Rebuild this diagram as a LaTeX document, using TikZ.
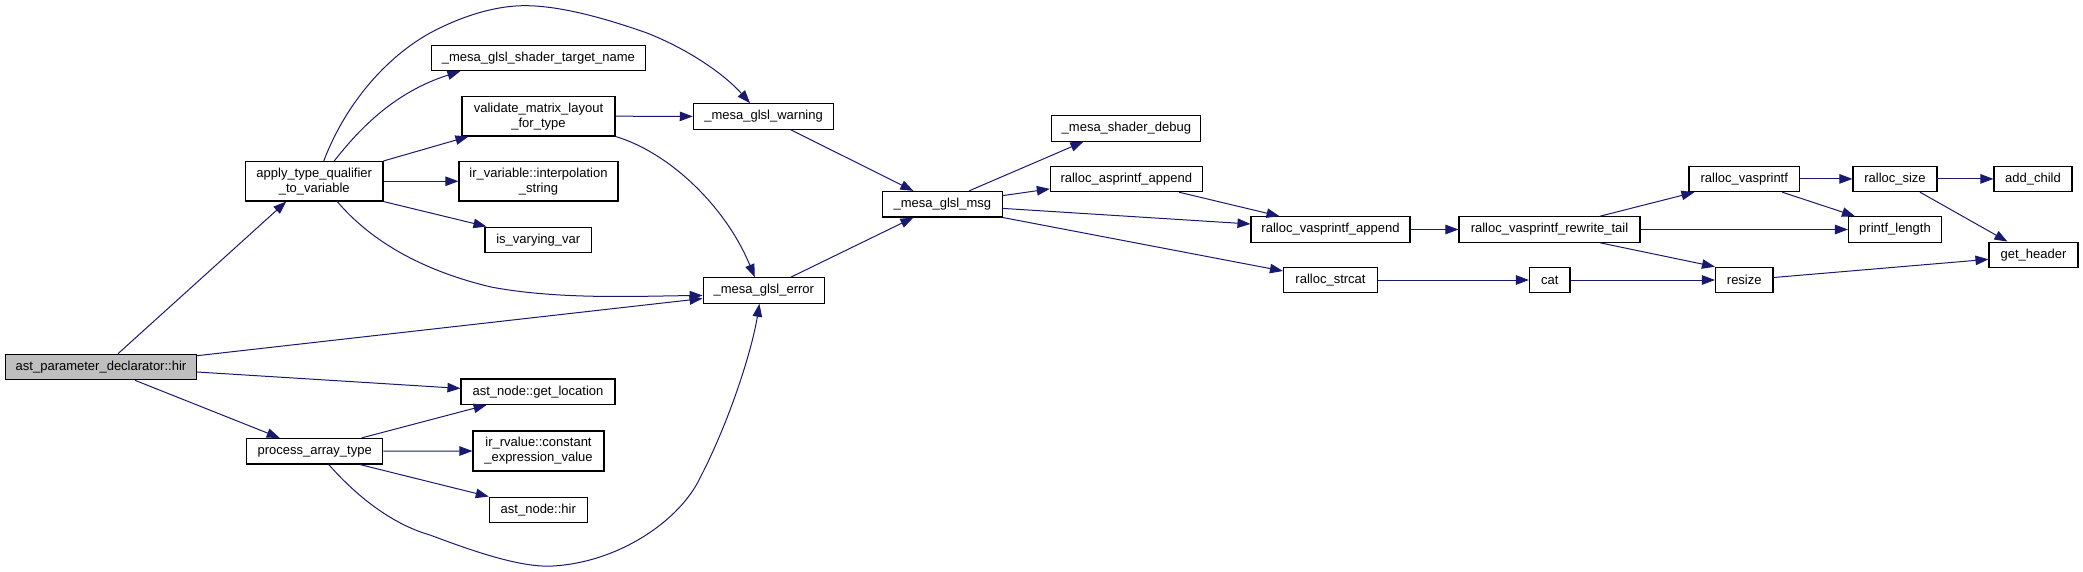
\documentclass[tikz,border=0pt]{standalone}
\usepackage{fontspec}
\setmainfont{Liberation Sans}
\usetikzlibrary{arrows.meta,calc}
\definecolor{edgeblue}{HTML}{191970}
\definecolor{rootgray}{HTML}{BFBFBF}
\tikzset{
  fn/.style={draw=black, line width=1.1pt, rectangle, inner sep=0pt, align=center,
    font=\fontsize{13pt}{15pt}\selectfont, minimum height=25.5pt},
  fn2/.style={fn, minimum height=39.5pt},
  call/.style={draw=edgeblue, line width=1pt, -{Triangle[length=13pt,width=9.5pt]}, edgeblue}
}
\begin{document}
\begin{tikzpicture}[x=1pt,y=-1pt]
\useasboundingbox (0,0) rectangle (2083,571);
% nodes
\node[fn, fill=rootgray, minimum width=191pt] (hir) at (101,367) {ast\_parameter\_declarator::hir};
\node[fn2, minimum width=137.5pt] (apply) at (314.25,181.25) {apply\_type\_qualifier\\\_to\_variable};
\node[fn, minimum width=213.8pt] (target) at (538.4,57.85) {\_mesa\_glsl\_shader\_target\_name};
\node[fn2, minimum width=153pt] (validate) at (538.5,116.2) {validate\_matrix\_layout\\\_for\_type};
\node[fn2, minimum width=159pt] (interp) at (538.5,181.25) {ir\_variable::interpolation\\\_string};
\node[fn, minimum width=106.5pt] (isvary) at (538.25,239.8) {is\_varying\_var};
\node[fn, minimum width=154pt] (getloc) at (538,391.7) {ast\_node::get\_location};
\node[fn, minimum width=136pt] (procarr) at (314.7,451.2) {process\_array\_type};
\node[fn2, minimum width=131pt, minimum height=40pt] (constv) at (538.5,451) {ir\_rvalue::constant\\\_expression\_value};
\node[fn, minimum width=98pt] (asthir) at (538.3,509.85) {ast\_node::hir};
\node[fn, minimum width=140.6pt] (warn) at (763.6,116.4) {\_mesa\_glsl\_warning};
\node[fn, minimum width=121.4pt] (err) at (763.8,290.5) {\_mesa\_glsl\_error};
\node[fn, minimum width=119.6pt] (msg) at (942.4,204.2) {\_mesa\_glsl\_msg};
\node[fn, minimum width=149pt] (sdebug) at (1126.4,128.4) {\_mesa\_shader\_debug};
\node[fn, minimum width=151.8pt] (asapp) at (1126.3,178.9) {ralloc\_asprintf\_append};
\node[fn, minimum width=159pt] (vsapp) at (1330.5,229.5) {ralloc\_vasprintf\_append};
\node[fn, minimum width=94pt] (strcat) at (1330.5,280) {ralloc\_strcat};
\node[fn, minimum width=181pt] (rtail) at (1549.5,229.5) {ralloc\_vasprintf\_rewrite\_tail};
\node[fn, minimum width=110.5pt] (rvs) at (1744.25,178.9) {ralloc\_vasprintf};
\node[fn, minimum width=84pt] (rsize) at (1895,178.9) {ralloc\_size};
\node[fn, minimum width=78pt] (addch) at (2033,178.9) {add\_child};
\node[fn, minimum width=93pt] (plen) at (1895,229.5) {printf\_length};
\node[fn, minimum width=89pt] (gethdr) at (2033.5,254.9) {get\_header};
\node[fn, minimum width=40.5pt] (cat) at (1549.75,280) {cat};
\node[fn, minimum width=57.5pt] (resize) at (1744.25,280) {resize};
% edges from root
\draw[call] ($(hir.north)+(17,0)$) -- ($(apply.south)+(-28,0)$);
\draw[call] ($(hir.north east)+(0,2)$) -- ($(err.west)+(0,8)$);
\draw[call] ($(hir.east)+(0,5)$) -- ($(getloc.west)+(0,-3.3)$);
\draw[call] ($(hir.south)+(34,0)$) -- ($(procarr.north)+(-35,0)$);
% apply_type_qualifier_to_variable
\draw[call] ($(apply.north)+(20,0)$) .. controls (360,128) and (395,92) .. ($(target.south)+(-78,0)$);
\draw[call] ($(apply.north)+(9.5,0)$) .. controls (345,105) and (385,58) .. (430,33)
   .. controls (460,17) and (495,5) .. (528,5.7)
   .. controls (565,6.5) and (610,20) .. (647,33)
   .. controls (690,50) and (725,75) .. ($(warn.north)+(-13.6,0)$);
\draw[call] (apply.north east) -- ($(validate.south west)+(7,0)$);
\draw[call] (apply.east) -- (interp.west);
\draw[call] (apply.south east) -- ($(isvary.north west)+(2,0)$);
\draw[call] ($(apply.south)+(23,0)$) .. controls (370,240) and (420,270) .. (491,287)
   .. controls (560,300) and (640,296) .. ($(err.west)+(0,5)$);
% validate
\draw[call] (validate.east) -- (warn.west);
\draw[call] (validate.south east) .. controls (668,152) and (725,205) .. ($(err.north)+(-9,0)$);
% process_array_type
\draw[call] ($(procarr.north)+(47,0)$) -- ($(getloc.south)+(-51.4,0)$);
\draw[call] (procarr.east) -- (constv.west);
\draw[call] ($(procarr.south)+(45,0)$) -- (asthir.north west);
\draw[call] ($(procarr.south)+(14,0)$) .. controls (360,500) and (395,525) .. (430,535)
   .. controls (470,550) and (520,568) .. (553,566)
   .. controls (620,562) and (680,520) .. (700,478)
   .. controls (730,420) and (752,350) .. ($(err.south)+(-4.4,0)$);
% warning / error -> msg
\draw[call] ($(warn.south)+(27,0)$) -- ($(msg.north)+(-29,0)$);
\draw[call] ($(err.north)+(27,0)$) -- ($(msg.south)+(-29,0)$);
% msg
\draw[call] ($(msg.north)+(26.6,0)$) -- ($(sdebug.south)+(-43,0)$);
\draw[call] ($(msg.east)+(0,-8.6)$) -- ($(asapp.west)+(0,10)$);
\draw[call] ($(msg.east)+(0,4.2)$) -- ($(vsapp.west)+(0,-5.5)$);
\draw[call] (msg.south east) -- ($(strcat.west)+(0,-9)$);
% ralloc
\draw[call] ($(asapp.south)+(52.7,0)$) -- ($(vsapp.north)+(-51,0)$);
\draw[call] (vsapp.east) -- (rtail.west);
\draw[call] (strcat.east) -- (cat.west);
\draw[call] ($(rtail.north)+(50.5,0)$) -- ($(rvs.south west)+(6,0)$);
\draw[call] (rtail.east) -- (plen.west);
\draw[call] ($(rtail.south)+(50.5,0)$) -- (resize.north west);
\draw[call] (rvs.east) -- (rsize.west);
\draw[call] ($(rvs.south)+(38,0)$) -- ($(plen.north)+(-40,0)$);
\draw[call] (rsize.east) -- (addch.west);
\draw[call] ($(rsize.south)+(25,0)$) -- ($(gethdr.north)+(-26,0)$);
\draw[call] (cat.east) -- (resize.west);
\draw[call] ($(resize.east)+(0,-2.5)$) -- ($(gethdr.west)+(0,4.4)$);
\end{tikzpicture}
\end{document}
